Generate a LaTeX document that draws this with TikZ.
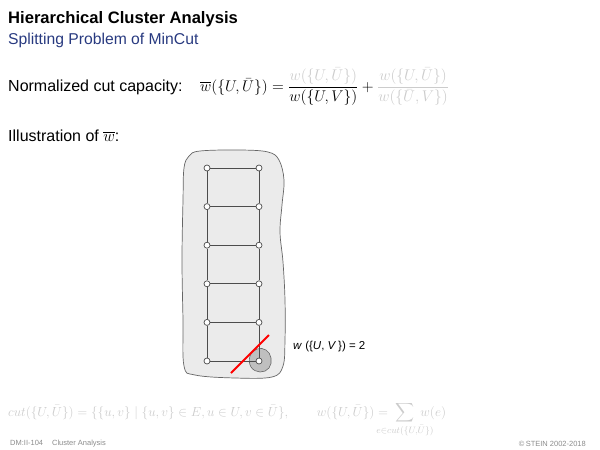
\RequirePackage{fix-cm}
\documentclass[tikz,border=0pt]{standalone}
\usepackage{amsmath,amssymb,mathtools}
\usepackage[no-math]{fontspec}
\setmainfont{Liberation Sans}
\usepackage{tikz}

\definecolor{subblue}{RGB}{40,58,128}
\colorlet{faded}{black!20}
\colorlet{footgray}{black!45}

\begin{document}
\begin{tikzpicture}[x=1pt,y=-1pt,
  vertex/.style={circle,draw=black!70,fill=white,inner sep=0pt,minimum size=6pt,line width=0.7pt},
  rung/.style={draw=black!70,line width=0.8pt}]
  \useasboundingbox (0,0) rectangle (600,450);
  % heading
  \node[anchor=base west,inner sep=0pt,font=\fontsize{16.6}{18}\selectfont\bfseries] (title) at (8,23) {Hierarchical Cluster Analysis};
  \node[anchor=base west,inner sep=0pt,text=subblue,font=\fontsize{15.7}{17}\selectfont] (subtitle) at (8,44) {Splitting Problem of MinCut};
  % the definition
  \node[anchor=base west,inner sep=0pt,font=\fontsize{16}{18}\selectfont] (normcut) at (8,91) {Normalized cut capacity:};
  \node[anchor=base west,inner sep=0pt,font=\fontsize{15.5}{17}\selectfont] (formula) at (200,91)
    {$\displaystyle \overline{w}(\{U,\bar U\}) = \frac{\textcolor{faded}{w(\{U,\bar U\})}}{w(\{U,V\})}
      + \textcolor{faded}{\frac{w(\{U,\bar U\})}{w(\{\bar U,V\})}}$};
  \node[anchor=base west,inner sep=0pt,font=\fontsize{16}{18}\selectfont] (illus) at (8,141) {Illustration of $\overline{w}$:};
  % the cluster, shaded
  \draw[fill=black!8,draw=black!60,line width=0.7pt] plot[smooth cycle,tension=0.6] coordinates {
    (200,151) (240,150) (268,152) (279,160) (284,180) (282,205) (280,232) (283,262)
    (285,300) (285,340) (283,366) (272,377) (235,378) (195,375) (184,366) (183,320)
    (182,260) (183,200) (184,168) (189,156)};
  % the split-off vertex
  \draw[fill=black!25,draw=black!60,line width=0.6pt] plot[smooth cycle,tension=0.7] coordinates {
    (250,356) (257,349) (266,350) (271,358) (269,368) (260,372) (251,367)};
  % the ladder
  \foreach \r [count=\i] in {168,206.6,245.2,283.8,322.4,361} {
    \node[vertex] (l\i) at (207,\r) {};
    \node[vertex] (r\i) at (259,\r) {};
  }
  \foreach \i in {1,...,6} \draw[rung] (l\i) -- (r\i);
  \foreach \i [count=\j from 2] in {1,...,5} {
    \draw[rung] (l\i) -- (l\j);
    \draw[rung] (r\i) -- (r\j);
  }
  % the cut
  \coordinate (cutlo) at (231,373);
  \coordinate (cuthi) at (269,335);
  \draw[red,line width=1.8pt] (cutlo) -- (cuthi);
  \node[anchor=base west,inner sep=0pt,font=\fontsize{11.5}{13}\selectfont] (wlabel) at (293,349)
    {\textit{w} (\{\textit{U}, \textit{V}\,\}) = 2};
  % cut and its weight
  \node[anchor=base west,inner sep=0pt,text=faded,font=\fontsize{13.2}{15}\selectfont] (cutdef) at (8,416)
    {$\displaystyle cut(\{U,\bar U\}) = \{\{u,v\}\mid \{u,v\}\in E, u\in U, v\in\bar U\},\qquad
      w(\{U,\bar U\}) = \;\sum_{\mathclap{e\in cut(\{U,\bar U\})}}\; w(e)$};
  % footer
  \node[anchor=base west,inner sep=0pt,text=footgray,font=\fontsize{7.5}{8}\selectfont] (footl) at (10,445) {DM:II-104\hspace{9pt}Cluster Analysis};
  \node[anchor=base east,inner sep=0pt,text=footgray,font=\fontsize{7.5}{8}\selectfont] (footr) at (586,446) {\textcopyright\,STEIN 2002-2018};
\end{tikzpicture}
\end{document}
